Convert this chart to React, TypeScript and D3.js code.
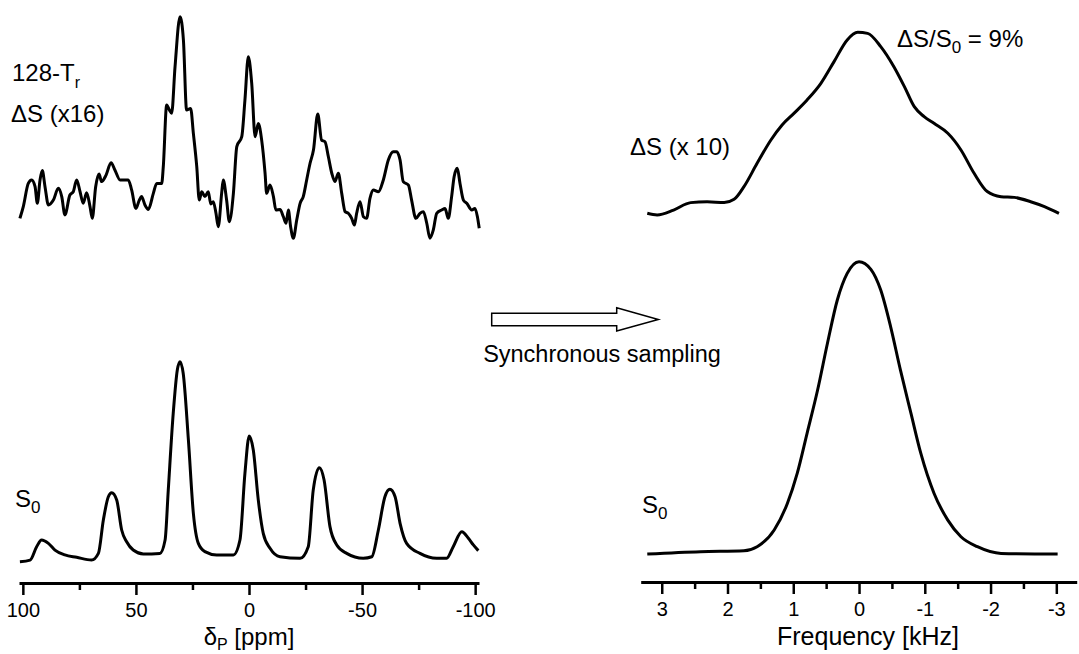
import React, { useRef, useEffect } from 'react';
import * as d3 from 'd3';

// spinning sample, 128-Tr difference spectrum (x16) : [ppm, intensity]
const deltaSpinning: [number, number][] = [
  [101.3, 0.8], [99.8, 6.6], [97.6, 18.0], [96.1, 19.7], [94.6, 16.4], [93.6, 8.2], [92.4, 19.7], [91.4, 24.3],
  [90.2, 16.4], [88.7, 7.4], [86.5, 9.8], [84.3, 15.6], [82.8, 11.5], [81.4, 2.5], [79.2, 12.3], [77.7, 13.9],
  [76.2, 19.7], [74.7, 13.9], [73.3, 8.2], [71.8, 13.4], [70.3, 6.6], [69.3, 0.8], [67.8, 16.4], [66.3, 22.6],
  [65.2, 18.9], [63.2, 22.1], [61.0, 28.2], [59.3, 24.6], [57.0, 19.7], [53.4, 19.7], [51.9, 14.8], [50.0, 5.7],
  [48.5, 9.8], [47.5, 11.5], [46.0, 7.4], [44.5, 5.2], [42.3, 13.1], [40.8, 18.0], [38.6, 18.0], [37.9, 26.2],
  [36.4, 56.6], [35.2, 54.1], [34.2, 52.5], [32.7, 75.4], [30.5, 100], [29.0, 88.5], [27.6, 54.1], [25.8, 54.9],
  [24.6, 42.6], [23.1, 26.2], [22.0, 9.8], [20.9, 13.9], [19.5, 11.5], [18.0, 13.9], [16.9, 7.9], [15.8, 9.0],
  [14.6, 3.3], [13.6, -3.3], [12.1, 13.1], [11.4, 19.7], [9.9, 9.8], [8.7, -0.8], [6.9, 13.1], [5.4, 36.1],
  [3.2, 41.0], [1.8, 59.0], [0.3, 80.3], [-1.2, 67.2], [-2.7, 41.0], [-4.1, 47.5], [-5.6, 39.3], [-7.1, 23.0],
  [-7.8, 13.1], [-9.3, 17.2], [-10.8, 11.5], [-11.9, 4.9], [-13.7, 5.2], [-15.2, 1.6], [-16.4, -1.6], [-17.4, 4.9],
  [-18.4, -3.3], [-19.6, -9.0], [-21.1, 0], [-22.6, 8.2], [-24.0, 11.5], [-25.5, 19.7], [-27.0, 27.9], [-28.5, 34.4],
  [-30.4, 52.1], [-32.1, 39.3], [-33.6, 38.5], [-35.1, 31.1], [-36.6, 23.0], [-38.0, 18.9], [-39.5, 23.0], [-41.0, 13.1],
  [-42.5, 4.1], [-43.9, 3.3], [-45.4, 0.8], [-46.6, -2.5], [-47.6, 3.3], [-49.1, 9.0], [-50.6, 1.6], [-52.0, 0.8],
  [-53.5, 10.7], [-55.0, 14.8], [-57.2, 13.9], [-59.4, 19.7], [-61.6, 29.5], [-63.8, 33.6], [-65.3, 33.6], [-66.8, 29.5],
  [-68.2, 18.9], [-70.5, 17.2], [-71.9, 9.8], [-73.8, 0.8], [-75.6, 3.3], [-77.1, 4.1], [-78.6, -1.6], [-80.0, -9.0],
  [-81.5, -4.9], [-83.0, 3.3], [-85.2, 4.9], [-86.7, 5.7], [-88.1, 0.8], [-89.6, 11.5], [-90.7, 21.3], [-92.1, 25.4],
  [-93.3, 18.0], [-94.8, 9.8], [-96.3, 8.2], [-98.5, 4.9], [-99.9, 5.7], [-101.0, 1.6], [-101.8, -4.1],
];

// spinning sample, reference spectrum S0 : [ppm, intensity]
const s0Spinning: [number, number][] = [
  [101.3, -1.7], [96.8, -0.9], [93.9, 5.9], [91.7, 9.3], [88.7, 7.6], [85.8, 4.2], [81.4, 1.7], [76.2, 0.5],
  [69.6, -0.9], [66.6, 2.5], [64.4, 19.5], [62.2, 31.3], [60.7, 33.4], [58.5, 29.7], [56.3, 14.4], [54.1, 8.4],
  [51.2, 4.2], [46.7, 2.2], [39.4, 2.5], [37.1, 9.3], [35.7, 34.7], [33.5, 73.8], [31.7, 95.8], [30.5, 100],
  [29.1, 94.1], [26.8, 60.2], [24.6, 22.9], [22.4, 7.6], [19.5, 3.4], [14.3, 1.7], [6.9, 1.7], [4.0, 9.3],
  [1.8, 43.2], [-0.1, 62.2], [-1.9, 55.1], [-4.1, 29.7], [-6.3, 12.7], [-9.3, 5.1], [-13.7, 0.8], [-22.6, 0],
  [-26.2, 5.9], [-28.4, 34.7], [-31.1, 46.1], [-33.2, 39.8], [-35.8, 16.1], [-38.8, 6.8], [-43.2, 2.5], [-50.5, 0],
  [-54.3, 0.8], [-57.2, 14.4], [-60.1, 31.3], [-62.3, 35.1], [-64.6, 31.3], [-66.8, 17.8], [-69.7, 7.6], [-75.6, 2.5],
  [-83.0, 0], [-87.4, 0], [-90.3, 5.9], [-94.1, 13.5], [-97.0, 10.2], [-99.2, 6.8], [-101.4, 3.9],
];

// synchronous sampling, difference (x 10) : [kHz, intensity]
const deltaSync: [number, number][] = [
  [3.22, 0], [3.07, -0.9], [2.82, 1.8], [2.56, 5.9], [2.31, 6.4], [2.05, 5.9], [1.90, 7.7], [1.75, 14.7],
  [1.55, 27.6], [1.34, 40.5], [1.17, 48.8], [0.99, 55.2], [0.79, 62.6], [0.58, 71.8], [0.38, 83.8], [0.18, 95.8],
  [0.02, 100], [-0.13, 99.4], [-0.33, 92.1], [-0.53, 81.0], [-0.69, 70.0], [-0.84, 58.9], [-0.99, 53.4], [-1.14, 49.7],
  [-1.35, 44.2], [-1.55, 35.0], [-1.75, 22.1], [-1.95, 12.0], [-2.16, 9.2], [-2.36, 8.8], [-2.61, 6.4], [-2.82, 3.7],
  [-3.04, 0],
];

// synchronous sampling, S0 : [kHz, intensity]
const s0Sync: [number, number][] = [
  [3.22, 0], [2.41, 0.8], [1.75, 1.1], [1.55, 2.5], [1.29, 8.2], [1.09, 17.3], [0.94, 27.6], [0.79, 41.3],
  [0.63, 56.1], [0.48, 72.1], [0.33, 86.9], [0.18, 96.0], [0, 100], [-0.18, 97.4], [-0.33, 90.3], [-0.48, 77.8],
  [-0.63, 62.9], [-0.79, 48.1], [-0.94, 34.4], [-1.14, 20.8], [-1.35, 11.6], [-1.55, 5.9], [-1.80, 2.5], [-2.16, 0.2],
  [-3.02, 0],
];

const ppmTicks = [100, 50, 0, -50, -100];
const ppmMinorTicks = [75, 25, -25, -75];
const khzTicks = [3, 2, 1, 0, -1, -2, -3];
const khzMinorTicks = [2.5, 1.5, 0.5, -0.5, -1.5, -2.5];

const FONT = '"Liberation Sans", Arial, Helvetica, sans-serif';

const App = () => {
  const ref = useRef<SVGSVGElement>(null);

  useEffect(() => {
    const svg = d3.select(ref.current);
    svg.selectAll('*').remove();
    svg.style('font-family', FONT);

    const xPpm = d3.scaleLinear().domain([101.7, -101.7]).range([19, 479]);
    const xKhz = d3.scaleLinear().domain([3.32, -3.31]).range([640.7, 1076.7]);

    const yDeltaSpin = d3.scaleLinear().domain([0, 100]).range([220, 16.7]);
    const yS0Spin = d3.scaleLinear().domain([0, 100]).range([558.3, 361.7]);
    const yDeltaSync = d3.scaleLinear().domain([0, 100]).range([213.3, 32.3]);
    const yS0Sync = d3.scaleLinear().domain([0, 100]).range([554, 261.7]);

    const traces = [
      { data: deltaSpinning, x: xPpm, y: yDeltaSpin },
      { data: s0Spinning, x: xPpm, y: yS0Spin },
      { data: deltaSync, x: xKhz, y: yDeltaSync },
      { data: s0Sync, x: xKhz, y: yS0Sync },
    ];

    traces.forEach((t) => {
      const line = d3.line<[number, number]>()
        .x(d => t.x(d[0]))
        .y(d => t.y(d[1]))
        .curve(d3.curveMonotoneX);
      svg.append('path')
        .datum(t.data)
        .attr('fill', 'none')
        .attr('stroke', '#000')
        .attr('stroke-width', 3)
        .attr('stroke-linejoin', 'round')
        .attr('d', line);
    });

    // axes
    const drawAxis = (scale: d3.ScaleLinear<number, number>, yPos: number, major: number[], minor: number[]) => {
      const gMinor = svg.append('g')
        .attr('transform', `translate(0, ${yPos})`)
        .call(d3.axisBottom(scale).tickValues(minor).tickSize(7).tickSizeOuter(0).tickFormat(() => ''));
      gMinor.select('.domain').remove();
      gMinor.selectAll('line').attr('stroke-width', 2.5);

      const g = svg.append('g')
        .attr('transform', `translate(0, ${yPos})`)
        .call(d3.axisBottom(scale).tickValues(major).tickSize(12).tickSizeOuter(0).tickPadding(8)
          .tickFormat(d => String(d)));
      g.select('.domain').attr('stroke-width', 3);
      g.selectAll('line').attr('stroke-width', 2.5);
      g.selectAll('text').attr('font-size', 20).attr('font-family', FONT).attr('fill', '#000');
    };
    drawAxis(xPpm, 583, ppmTicks, ppmMinorTicks);
    drawAxis(xKhz, 582, khzTicks, khzMinorTicks);

    // axis titles
    const t1 = svg.append('text').attr('x', 249).attr('y', 645).attr('text-anchor', 'middle').attr('font-size', 24);
    t1.append('tspan').text('δ');
    t1.append('tspan').attr('font-size', 16).attr('dy', 5).text('P');
    t1.append('tspan').attr('dy', -5).text(' [ppm]');

    svg.append('text').attr('x', 868).attr('y', 645).attr('text-anchor', 'middle').attr('font-size', 25)
      .text('Frequency [kHz]');

    // trace labels
    const l1 = svg.append('text').attr('x', 12).attr('y', 81).attr('font-size', 24);
    l1.append('tspan').text('128-T');
    l1.append('tspan').attr('font-size', 16).attr('dy', 7).text('r');
    svg.append('text').attr('x', 11).attr('y', 122).attr('font-size', 24).text('ΔS (x16)');

    const l2 = svg.append('text').attr('x', 15).attr('y', 507).attr('font-size', 24);
    l2.append('tspan').text('S');
    l2.append('tspan').attr('font-size', 17).attr('dy', 6).text('0');

    svg.append('text').attr('x', 630).attr('y', 155).attr('font-size', 24).text('ΔS (x 10)');

    const l3 = svg.append('text').attr('x', 897).attr('y', 47).attr('font-size', 24);
    l3.append('tspan').text('ΔS/S');
    l3.append('tspan').attr('font-size', 17).attr('dy', 6).text('0');
    l3.append('tspan').attr('dy', -6).text(' = 9%');

    const l4 = svg.append('text').attr('x', 642).attr('y', 513).attr('font-size', 24);
    l4.append('tspan').text('S');
    l4.append('tspan').attr('font-size', 17).attr('dy', 6).text('0');

    // arrow
    const arrow: [number, number][] = [
      [491.7, 313.3], [616.7, 313.3], [616.7, 307.7], [658.3, 319.5],
      [616.7, 331], [616.7, 325.7], [491.7, 325.7],
    ];
    svg.append('polygon')
      .attr('points', arrow.map(p => p.join(',')).join(' '))
      .attr('fill', '#fff')
      .attr('stroke', '#000')
      .attr('stroke-width', 1.5);

    svg.append('text').attr('x', 602).attr('y', 362).attr('text-anchor', 'middle').attr('font-size', 23.5)
      .text('Synchronous sampling');
  }, []);

  return (
    <svg ref={ref} width={1079} height={654}
      style={{ position: 'absolute', left: 0, top: 0, background: '#fff' }} />
  );
};

export default App;
